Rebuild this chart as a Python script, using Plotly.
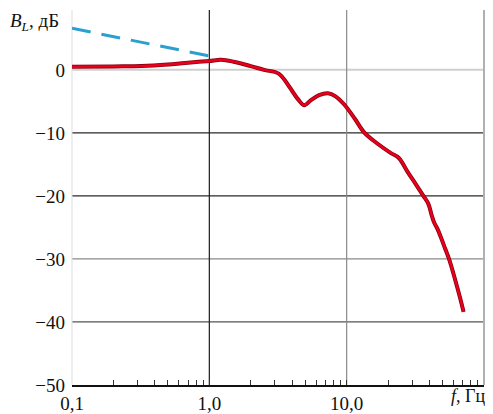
import plotly.graph_objects as go

# Red curve (frequency, dB)
red_f = [0.1, 0.2, 0.32, 0.5, 0.63, 0.8, 1.0, 1.22, 1.5, 2.0, 2.5, 3.2, 3.8, 4.4, 4.9, 5.5, 6.3, 7.3, 8.3, 9.6, 11.5, 13.5, 17.0, 21.0, 23.8, 28.0, 32.0, 36.2, 39.4, 41.5, 43.5, 46.0, 49.0, 52.0, 56.0, 62.0, 67.0, 71.0]
red_db = [0.5, 0.55, 0.6, 0.85, 1.05, 1.25, 1.4, 1.6, 1.3, 0.6, 0.0, -0.6, -2.6, -4.6, -5.6, -4.8, -4.0, -3.7, -4.2, -5.5, -7.8, -10.0, -11.8, -13.2, -13.9, -16.3, -18.2, -20.0, -21.3, -23.0, -24.3, -25.3, -26.8, -28.3, -30.2, -33.5, -36.2, -38.4]

# Blue dashed asymptote
blue_f = [0.1, 1.18]
blue_db = [6.6, 1.9]

x_major = [0.1, 1, 10]
x_major_text = ["0,1", "1,0", "10,0"]
x_minor = [m * d for d in [0.1, 1, 10] for m in range(2, 10)]
y_ticks = [0, -10, -20, -30, -40, -50]
y_tick_text = ["0", "−10", "−20", "−30", "−40", "−50"]

hgrid_colors = {0: "#cfcfcf", -10: "#2a2a2a", -20: "#2a2a2a", -30: "#8a8a8a", -40: "#555555"}
vgrid_colors = {1: "#1a1a1a", 10: "#8a8a8a"}

SERIF = "Liberation Serif"

fig = go.Figure()
fig.add_trace(go.Scatter(x=blue_f, y=blue_db, mode="lines",
                         line=dict(color="#2a9fd0", width=3, dash="19px,11px"), hoverinfo="skip"))
fig.add_trace(go.Scatter(x=red_f, y=red_db, mode="lines", line_shape="spline",
                         line=dict(color="#8a0010", width=4), hoverinfo="skip"))
fig.add_trace(go.Scatter(x=red_f, y=red_db, mode="lines", line_shape="spline",
                         line=dict(color="#e8001c", width=2.4), hoverinfo="skip"))

shapes = []
for yv, c in hgrid_colors.items():
    shapes.append(dict(type="line", xref="paper", yref="y", x0=0, x1=1, y0=yv, y1=yv,
                       line=dict(color=c, width=2 if yv == 0 else 1.2), layer="below"))
for xv, c in vgrid_colors.items():
    shapes.append(dict(type="line", xref="x", yref="paper", x0=xv, x1=xv, y0=0, y1=1,
                       line=dict(color=c, width=1.2), layer="below"))
# frame: left light, right gray
shapes.append(dict(type="line", xref="paper", yref="paper", x0=0, x1=0, y0=0, y1=1,
                   line=dict(color="#dddddd", width=1), layer="below"))
shapes.append(dict(type="line", xref="paper", yref="paper", x0=1, x1=1, y0=0, y1=1,
                   line=dict(color="#b0b0b0", width=2), layer="below"))

# page body has an 8px margin, so the figure is sized to fit the window
fig.update_layout(
    width=485, height=406,
    margin=dict(l=64, r=9, t=2, b=29),
    paper_bgcolor="white", plot_bgcolor="white",
    showlegend=False,
    font=dict(family=SERIF, size=19, color="#111"),
    shapes=shapes,
    xaxis=dict(type="log", range=[-1, 2], showgrid=False, zeroline=False,
               automargin=False,
               tickvals=x_major + x_minor,
               ticktext=x_major_text + [""] * len(x_minor),
               ticks="inside", ticklen=5, tickcolor="#333", tickwidth=1,
               showline=True, linecolor="#111", linewidth=1.5,
               ticklabelstandoff=0,
               tickfont=dict(family=SERIF, size=19)),
    yaxis=dict(range=[-50, 9.5], showgrid=False, zeroline=False,
               automargin=False,
               tickvals=y_ticks, ticktext=y_tick_text, ticks="",
               showline=False, ticklabelstandoff=6,
               tickfont=dict(family=SERIF, size=19)),
    annotations=[
        dict(text="<i>B</i><sub><i>L</i></sub>, дБ", xref="paper", yref="paper",
             x=0, y=1.0, xanchor="left", yanchor="top", xshift=-64, yshift=2, showarrow=False,
             font=dict(family=SERIF, size=19)),
        dict(text="<i>f</i>, Гц", xref="paper", yref="paper",
             x=1.0, y=0, xanchor="right", yanchor="top", xshift=3, yshift=1, showarrow=False,
             font=dict(family=SERIF, size=18)),
    ],
)

fig.write_html("out.html")
